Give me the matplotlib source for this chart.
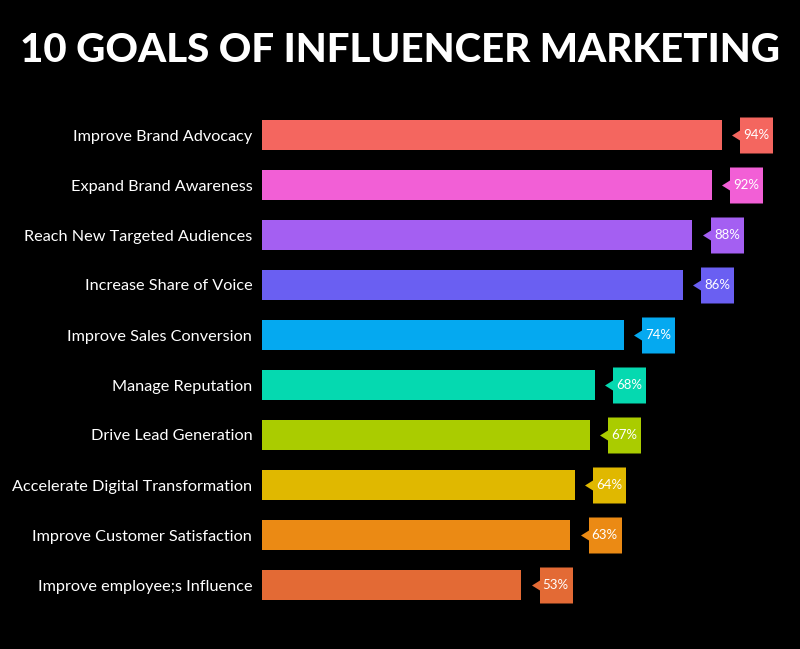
import matplotlib.pyplot as plt
from matplotlib.transforms import offset_copy

goals = [
    "Improve Brand Advocacy",
    "Expand Brand Awareness",
    "Reach New Targeted Audiences",
    "Increase Share of Voice",
    "Improve Sales Conversion",
    "Manage Reputation",
    "Drive Lead Generation",
    "Accelerate Digital Transformation",
    "Improve Customer Satisfaction",
    "Improve employee;s Influence",
]
values = [94, 92, 88, 86, 74, 68, 67, 64, 63, 53]
colors = ["#F4665F", "#F25FD6", "#A45FF2", "#6A5FF2", "#05A9F0",
          "#05D9B0", "#AACC00", "#E0B800", "#EB8A14", "#E36A35"]

fig = plt.figure(figsize=(8, 6.49), dpi=100, facecolor="black")
ax = fig.add_axes([262 / 800, 1 - 610 / 649, 538 / 800, 500 / 649])
ax.set_facecolor("black")

ypos = list(range(len(goals)))
ax.barh(ypos, values, height=0.6, color=colors)
ax.set_ylim(len(goals) - 0.5, -0.5)
ax.set_xlim(0, 110)

for s in ax.spines.values():
    s.set_visible(False)
ax.set_xticks([])
ax.set_yticks(ypos)
ax.set_yticklabels(goals, color="white", fontsize=11.7, family="Lato")
ax.tick_params(axis="y", length=0, pad=7)

# value tag: box with a small pointer on its left side
tag = [(-16.5, -18), (16.5, -18), (16.5, 18), (-16.5, 18),
       (-16.5, 5), (-24.5, 0), (-16.5, -5), (-16.5, -18)]
shift = offset_copy(ax.transData, fig=fig, x=24.8, y=0, units="points")
for y, v, c in zip(ypos, values, colors):
    ax.scatter([v], [y], marker=tag, s=1245, color=c, transform=shift,
               linewidths=0, zorder=3)
    ax.annotate(f"{v}%", xy=(v, y), xytext=(24.8, 0),
                textcoords="offset points", ha="center", va="center",
                color="white", fontsize=9.5, family="Lato", zorder=4)

fig.text(0.5, 1 - 50 / 649, "10 GOALS OF INFLUENCER MARKETING",
         ha="center", va="center", color="white", fontsize=29,
         fontweight="black", family="Lato")

fig.savefig("out.png", dpi=100, facecolor="black")
